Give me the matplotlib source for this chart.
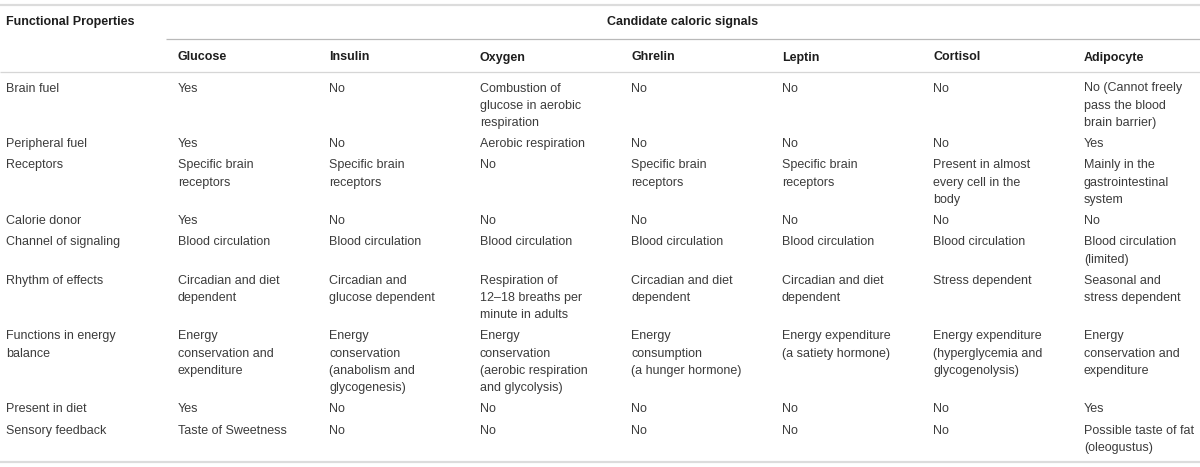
import matplotlib
matplotlib.use("Agg")
import matplotlib.pyplot as plt

plt.rcParams["font.family"] = ["Liberation Sans", "DejaVu Sans"]

# table content
corner_title = "Functional Properties"
group_title = "Candidate caloric signals"
signals = ["Glucose", "Insulin", "Oxygen", "Ghrelin", "Leptin", "Cortisol", "Adipocyte"]

properties = [
    "Brain fuel",
    "Peripheral fuel",
    "Receptors",
    "Calorie donor",
    "Channel of signaling",
    "Rhythm of effects",
    "Functions in energy\nbalance",
    "Present in diet",
    "Sensory feedback",
]

glucose = ["Yes", "Yes", "Specific brain\nreceptors", "Yes", "Blood circulation",
           "Circadian and diet\ndependent", "Energy\nconservation and\nexpenditure",
           "Yes", "Taste of Sweetness"]
insulin = ["No", "No", "Specific brain\nreceptors", "No", "Blood circulation",
           "Circadian and\nglucose dependent",
           "Energy\nconservation\n(anabolism and\nglycogenesis)", "No", "No"]
oxygen = ["Combustion of\nglucose in aerobic\nrespiration", "Aerobic respiration", "No",
          "No", "Blood circulation", "Respiration of\n12\u201318 breaths per\nminute in adults",
          "Energy\nconservation\n(aerobic respiration\nand glycolysis)", "No", "No"]
ghrelin = ["No", "No", "Specific brain\nreceptors", "No", "Blood circulation",
           "Circadian and diet\ndependent", "Energy\nconsumption\n(a hunger hormone)",
           "No", "No"]
leptin = ["No", "No", "Specific brain\nreceptors", "No", "Blood circulation",
          "Circadian and diet\ndependent", "Energy expenditure\n(a satiety hormone)",
          "No", "No"]
cortisol = ["No", "No", "Present in almost\nevery cell in the\nbody", "No", "Blood circulation",
            "Stress dependent",
            "Energy expenditure\n(hyperglycemia and\nglycogenolysis)", "No", "No"]
adipocyte = ["No (Cannot freely\npass the blood\nbrain barrier)", "Yes",
             "Mainly in the\ngastrointestinal\nsystem", "No", "Blood circulation\n(limited)",
             "Seasonal and\nstress dependent", "Energy\nconservation and\nexpenditure",
             "Yes", "Possible taste of fat\n(oleogustus)"]

columns = [glucose, insulin, oxygen, ghrelin, leptin, cortisol, adipocyte]

# layout (pixels)
W, H = 1200, 467
fig = plt.figure(figsize=(W / 100, H / 100), dpi=100)
ax = fig.add_axes([0, 0, 1, 1])
ax.set_xlim(0, W)
ax.set_ylim(H, 0)
ax.axis("off")

fs = 9.0
base = 0.36 * fs * 100 / 72     # cap centre -> baseline
txt_col = "#3c3c3c"
head_col = "#1e1e1e"
label_x = 6
col_x0, col_dx = 178, 151
line_h = 17.25
row_gap = 21.2

def draw_cell(x, y, s, **kw):
    for i, part in enumerate(s.split("\n")):
        ax.text(x, y + i * line_h + base, part, fontsize=fs, va="baseline",
                ha="left", color=txt_col, **kw)

# rules
ax.plot([0, W], [5, 5], color="#dcdcdc", lw=1.6, solid_capstyle="butt")
ax.plot([166, W], [39, 39], color="#b9b9b9", lw=0.9, solid_capstyle="butt")
ax.plot([0, W], [72, 72], color="#d6d6d6", lw=0.9, solid_capstyle="butt")
ax.plot([0, W], [462, 462], color="#dcdcdc", lw=1.6, solid_capstyle="butt")

# headers
ax.text(label_x, 20 + base, corner_title, fontsize=fs, fontweight="bold",
        va="baseline", color=head_col)
ax.text((166 + W) / 2, 20 + base, group_title, fontsize=fs, fontweight="bold",
        va="baseline", ha="center", color=head_col)
for j, name in enumerate(signals):
    ax.text(col_x0 + j * col_dx, 56 + base, name, fontsize=fs, fontweight="bold",
            va="baseline", color=head_col)

# body
y = 87
for r, prop in enumerate(properties):
    cells = [prop] + [c[r] for c in columns]
    draw_cell(label_x, y, prop)
    for j, c in enumerate(columns):
        draw_cell(col_x0 + j * col_dx, y, c[r])
    n = max(s.count("\n") + 1 for s in cells)
    y += (n - 1) * line_h + row_gap

fig.savefig("out.png", dpi=100, facecolor="white")
